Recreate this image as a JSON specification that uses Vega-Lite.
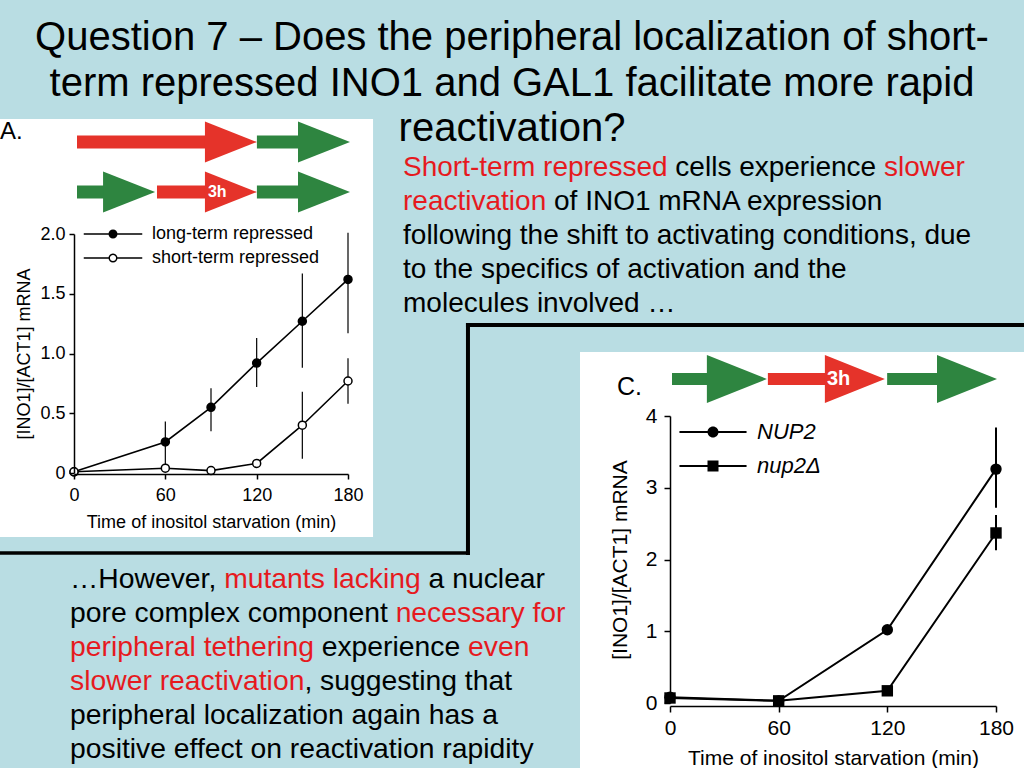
{
  "$schema": "https://vega.github.io/schema/vega-lite/v6.json",
  "width": 1024,
  "height": 768,
  "autosize": {"type": "none"},
  "padding": 0,
  "background": "#b9dde3",
  "config": {
    "view": {"stroke": null},
    "font": "Liberation Sans",
    "axis": {"grid": false, "domainColor": "black", "tickColor": "black", "labelColor": "black", "titleColor": "black", "titleFontWeight": "normal", "labelFont": "Liberation Sans", "titleFont": "Liberation Sans", "labelFlush": false, "labelOverlap": false, "domainWidth": 1.5, "tickWidth": 1.5},
    "legend": {"labelFont": "Liberation Sans", "labelColor": "black"}
  },
  "datasets": {
    "inoA": [
      {"series": "long-term repressed", "time": 0, "value": 0.01},
      {"series": "long-term repressed", "time": 60, "value": 0.26, "lo": 0.03, "hi": 0.43},
      {"series": "long-term repressed", "time": 90, "value": 0.55, "lo": 0.35, "hi": 0.71},
      {"series": "long-term repressed", "time": 120, "value": 0.92, "lo": 0.72, "hi": 1.13},
      {"series": "long-term repressed", "time": 150, "value": 1.27, "lo": 0.88, "hi": 1.67},
      {"series": "long-term repressed", "time": 180, "value": 1.62, "lo": 1.17, "hi": 2.01},
      {"series": "short-term repressed", "time": 0, "value": 0.01},
      {"series": "short-term repressed", "time": 60, "value": 0.04},
      {"series": "short-term repressed", "time": 90, "value": 0.02},
      {"series": "short-term repressed", "time": 120, "value": 0.08},
      {"series": "short-term repressed", "time": 150, "value": 0.40, "lo": 0.12, "hi": 0.68},
      {"series": "short-term repressed", "time": 180, "value": 0.77, "lo": 0.58, "hi": 0.96}
    ],
    "inoC": [
      {"strain": "NUP2", "time": 0, "value": 0.08},
      {"strain": "NUP2", "time": 60, "value": 0.03},
      {"strain": "NUP2", "time": 120, "value": 1.02},
      {"strain": "NUP2", "time": 180, "value": 3.26, "lo": 2.72, "hi": 3.84},
      {"strain": "nup2Δ", "time": 0, "value": 0.07},
      {"strain": "nup2Δ", "time": 60, "value": 0.03},
      {"strain": "nup2Δ", "time": 120, "value": 0.17},
      {"strain": "nup2Δ", "time": 180, "value": 2.37, "lo": 2.13, "hi": 2.62}
    ],
    "schemeA": [
      {"track": "long-term repressed", "phase": "repressed", "start": 0, "end": 65.9},
      {"track": "long-term repressed", "phase": "active", "start": 65.9, "end": 100},
      {"track": "short-term repressed", "phase": "active", "start": 0, "end": 28.6},
      {"track": "short-term repressed", "phase": "repressed", "start": 29.3, "end": 65.9, "label": "3h"},
      {"track": "short-term repressed", "phase": "active", "start": 65.9, "end": 100}
    ],
    "schemeC": [
      {"track": "short-term repressed", "phase": "active", "start": 0, "end": 29.2},
      {"track": "short-term repressed", "phase": "repressed", "start": 29.5, "end": 65.5, "label": "3h"},
      {"track": "short-term repressed", "phase": "active", "start": 66.2, "end": 100}
    ],
    "title": [
      {"line": 1, "text": "Question 7 – Does the peripheral localization of short-"},
      {"line": 2, "text": "term repressed INO1 and GAL1 facilitate more rapid"},
      {"line": 3, "text": "reactivation?"}
    ],
    "noteTop": [
      {"line": 1, "text": "Short-term repressed cells experience slower"},
      {"line": 2, "text": "reactivation of INO1 mRNA expression"},
      {"line": 3, "text": "following the shift to activating conditions, due"},
      {"line": 4, "text": "to the specifics of activation and the"},
      {"line": 5, "text": "molecules involved …"}
    ],
    "noteBottom": [
      {"line": 1, "text": "…However, mutants lacking a nuclear"},
      {"line": 2, "text": "pore complex component necessary for"},
      {"line": 3, "text": "peripheral tethering experience even"},
      {"line": 4, "text": "slower reactivation, suggesting that"},
      {"line": 5, "text": "peripheral localization again has a"},
      {"line": 6, "text": "positive effect on reactivation rapidity"}
    ]
  },
  "layer": [
    {
      "data": {"values": [{"item": "slide"}]},
      "layer": [
        {"mark": {"type": "rect", "color": "white"},
         "encoding": {
           "x": {"datum": 0, "type": "quantitative", "scale": {"domain": [0, 10], "range": [0, 1024]}, "axis": null},
           "x2": {"datum": 3.643},
           "y": {"datum": 1.162, "type": "quantitative", "scale": {"domain": [0, 7.5], "range": [0, 768]}, "axis": null},
           "y2": {"datum": 5.244}
         }},
        {"mark": {"type": "rect", "color": "white"},
         "encoding": {
           "x": {"datum": 5.664, "type": "quantitative", "scale": {"domain": [0, 10], "range": [0, 1024]}, "axis": null},
           "x2": {"datum": 10},
           "y": {"datum": 3.4375, "type": "quantitative", "scale": {"domain": [0, 7.5], "range": [0, 768]}, "axis": null},
           "y2": {"datum": 7.5}
         }},
        {"mark": {"type": "rule", "color": "black", "strokeWidth": 4, "strokeCap": "square"},
         "encoding": {
           "x": {"datum": 4.57, "type": "quantitative", "scale": {"domain": [0, 10], "range": [0, 1024]}, "axis": null},
           "x2": {"datum": 10},
           "y": {"datum": 3.174, "type": "quantitative", "scale": {"domain": [0, 7.5], "range": [0, 768]}, "axis": null}
         }},
        {"mark": {"type": "rule", "color": "black", "strokeWidth": 4, "strokeCap": "square"},
         "encoding": {
           "x": {"datum": 4.57, "type": "quantitative", "scale": {"domain": [0, 10], "range": [0, 1024]}, "axis": null},
           "y": {"datum": 3.174, "type": "quantitative", "scale": {"domain": [0, 7.5], "range": [0, 768]}, "axis": null},
           "y2": {"datum": 5.4}
         }},
        {"mark": {"type": "rule", "color": "black", "strokeWidth": 3.5, "strokeCap": "square"},
         "encoding": {
           "x": {"datum": 0, "type": "quantitative", "scale": {"domain": [0, 10], "range": [0, 1024]}, "axis": null},
           "x2": {"datum": 4.57},
           "y": {"datum": 5.4, "type": "quantitative", "scale": {"domain": [0, 7.5], "range": [0, 768]}, "axis": null}
         }},
        {"mark": {"type": "text", "fontSize": 24, "align": "left", "baseline": "alphabetic", "color": "black"},
         "encoding": {
           "x": {"datum": 0, "type": "quantitative", "scale": {"domain": [0, 10], "range": [0, 1024]}, "axis": null},
           "y": {"datum": 1.36, "type": "quantitative", "scale": {"domain": [0, 7.5], "range": [0, 768]}, "axis": null},
           "text": {"value": "A."}
         }},
        {"mark": {"type": "text", "fontSize": 25, "align": "left", "baseline": "alphabetic", "color": "black"},
         "encoding": {
           "x": {"datum": 6.025, "type": "quantitative", "scale": {"domain": [0, 10], "range": [0, 1024]}, "axis": null},
           "y": {"datum": 3.857, "type": "quantitative", "scale": {"domain": [0, 7.5], "range": [0, 768]}, "axis": null},
           "text": {"value": "C."}
         }}
      ]
    },
    {
      "data": {"name": "inoA"},
      "encoding": {
        "x": {"field": "time", "type": "quantitative", "scale": {"domain": [0, 180], "range": [74, 348]},
              "axis": {"orient": "bottom", "offset": -294, "zindex": 1, "values": [0, 60, 120, 180], "title": "Time of inositol starvation (min)", "titleFontSize": 18, "labelFontSize": 18, "tickSize": 5, "labelPadding": 7, "titlePadding": 9}},
        "y": {"field": "value", "type": "quantitative", "scale": {"domain": [0, 2], "range": [473, 234]},
              "axis": {"orient": "left", "offset": -74, "zindex": 1, "values": [0, 0.5, 1, 1.5, 2], "labelExpr": "datum.value === 0 ? '0' : format(datum.value, '.1f')", "title": "[INO1]/[ACT1] mRNA", "titleFontSize": 18, "labelFontSize": 18, "tickSize": 5, "labelPadding": 4, "titlePadding": 6}}
      },
      "layer": [
        {"transform": [{"filter": "datum.lo != null"}],
         "mark": {"type": "rule", "color": "black", "strokeWidth": 1.2},
         "encoding": {
           "y": {"field": "lo", "type": "quantitative", "scale": {"domain": [0, 2], "range": [473, 234]},
                 "axis": {"orient": "left", "offset": -74, "zindex": 1, "values": [0, 0.5, 1, 1.5, 2], "labelExpr": "datum.value === 0 ? '0' : format(datum.value, '.1f')", "title": "[INO1]/[ACT1] mRNA", "titleFontSize": 18, "labelFontSize": 18, "tickSize": 5, "labelPadding": 4, "titlePadding": 6}},
           "y2": {"field": "hi"}
         }},
        {"mark": {"type": "line", "color": "black", "strokeWidth": 1.6},
         "encoding": {"detail": {"field": "series", "type": "nominal"}}},
        {"mark": {"type": "point", "shape": "circle", "filled": true, "size": 64, "stroke": "black", "strokeWidth": 1.5, "opacity": 1},
         "encoding": {"fill": {"field": "series", "type": "nominal", "scale": {"domain": ["long-term repressed", "short-term repressed"], "range": ["black", "white"]}, "legend": null}}},
        {"mark": {"type": "point", "filled": false, "color": "black", "fill": "black", "stroke": "black", "strokeWidth": 1.5, "opacity": 0},
         "encoding": {"shape": {"field": "series", "type": "nominal",
            "scale": {"domain": ["long-term repressed", "short-term repressed"], "range": ["M-6.5,-0.17H-0.9V0.17H-6.5ZM0.9,-0.17H6.5V0.17H0.9ZM1,0A1,1,0,1,1,-1,0A1,1,0,1,1,1,0Z", "M-6.5,-0.17H-0.9V0.17H-6.5ZM0.9,-0.17H6.5V0.17H0.9ZM1,0A1,1,0,1,1,-1,0A1,1,0,1,1,1,0ZM0.68,0A0.68,0.68,0,1,0,-0.68,0A0.68,0.68,0,1,0,0.68,0Z"]},
            "legend": {"orient": "none", "legendX": 104, "legendY": 225, "title": null, "symbolSize": 81, "symbolStrokeWidth": 0, "symbolStrokeColor": "black", "symbolFillColor": "black", "symbolOpacity": 1, "labelFontSize": 18, "labelOffset": 30, "rowPadding": 6, "padding": 0, "labelLimit": 300}}}}
      ],
      "resolve": {"scale": {"shape": "independent", "fill": "independent"}, "legend": {"shape": "independent", "fill": "independent"}}
    },
    {
      "data": {"name": "inoC"},
      "encoding": {
        "x": {"field": "time", "type": "quantitative", "scale": {"domain": [0, 180], "range": [670, 996]},
              "axis": {"orient": "bottom", "offset": -62, "zindex": 1, "values": [0, 60, 120, 180], "title": "Time of inositol starvation (min)", "titleFontSize": 21, "labelFontSize": 21, "tickSize": 6, "labelPadding": 5, "titlePadding": 9}},
        "y": {"field": "value", "type": "quantitative", "scale": {"domain": [0, 4], "range": [703, 416]},
              "axis": {"orient": "left", "offset": -670, "zindex": 1, "values": [0, 1, 2, 3, 4], "title": "[INO1]/[ACT1] mRNA", "titleFontSize": 21, "labelFontSize": 21, "tickSize": 6, "labelPadding": 7, "titlePadding": 15}}
      },
      "layer": [
        {"transform": [{"filter": "datum.lo != null"}],
         "mark": {"type": "rule", "color": "black", "strokeWidth": 2},
         "encoding": {
           "y": {"field": "lo", "type": "quantitative", "scale": {"domain": [0, 4], "range": [703, 416]},
                 "axis": {"orient": "left", "offset": -670, "zindex": 1, "values": [0, 1, 2, 3, 4], "title": "[INO1]/[ACT1] mRNA", "titleFontSize": 21, "labelFontSize": 21, "tickSize": 6, "labelPadding": 7, "titlePadding": 15}},
           "y2": {"field": "hi"}
         }},
        {"mark": {"type": "line", "color": "black", "strokeWidth": 2},
         "encoding": {"detail": {"field": "strain", "type": "nominal"}}},
        {"mark": {"type": "point", "filled": true, "color": "black", "size": 130, "opacity": 1},
         "encoding": {"shape": {"field": "strain", "type": "nominal", "scale": {"domain": ["NUP2", "nup2Δ"], "range": ["circle", "square"]}, "legend": null}}},
        {"mark": {"type": "point", "filled": false, "color": "black", "fill": "black", "stroke": "black", "strokeWidth": 1.5, "opacity": 0},
         "encoding": {"shape": {"field": "strain", "type": "nominal",
            "scale": {"domain": ["NUP2", "nup2Δ"], "range": ["M-6.1,-0.18H-0.9V0.18H-6.1ZM0.9,-0.18H6.1V0.18H0.9ZM1,0A1,1,0,1,1,-1,0A1,1,0,1,1,1,0Z", "M-6.1,-0.18H-0.9V0.18H-6.1ZM0.9,-0.18H6.1V0.18H0.9ZM-1,-1H1V1H-1Z"]},
            "legend": {"orient": "none", "legendX": 702, "legendY": 421, "title": null, "symbolSize": 121, "symbolStrokeWidth": 0, "symbolStrokeColor": "black", "symbolFillColor": "black", "symbolOpacity": 1, "labelFontSize": 22, "labelFontStyle": "italic", "labelOffset": 33, "rowPadding": 12, "padding": 0, "labelLimit": 300}}}}
      ],
      "resolve": {"scale": {"shape": "independent"}, "legend": {"shape": "independent"}}
    },
    {
      "data": {"name": "schemeA"},
      "encoding": {
        "x": {"field": "start", "type": "quantitative", "scale": {"domain": [0, 100], "range": [77, 350]}, "axis": null},
        "y": {"field": "track", "type": "nominal", "scale": {"type": "point", "domain": ["long-term repressed", "short-term repressed"], "range": [142, 192], "padding": 0}, "axis": null},
        "color": {"field": "phase", "type": "nominal", "scale": {"domain": ["repressed", "active"], "range": ["#e5332a", "#2e8540"]}, "legend": null}
      },
      "layer": [
        {"mark": {"type": "rule", "strokeWidth": 13, "strokeCap": "butt", "x2Offset": -26},
         "encoding": {"x2": {"field": "end"}}},
        {"mark": {"type": "point", "shape": "M-1,-0.79L1,0L-1,0.79Z", "size": 2704, "filled": true, "opacity": 1, "xOffset": -26},
         "encoding": {"x": {"field": "end", "type": "quantitative", "scale": {"domain": [0, 100], "range": [77, 350]}, "axis": null}}},
        {"transform": [{"filter": "datum.label != null"}],
         "mark": {"type": "text", "fontWeight": "bold", "fontSize": 16, "align": "left", "baseline": "middle", "dx": -49},
         "encoding": {"x": {"field": "end", "type": "quantitative", "scale": {"domain": [0, 100], "range": [77, 350]}, "axis": null}, "text": {"field": "label"}, "color": {"value": "white"}}}
      ]
    },
    {
      "data": {"name": "schemeC"},
      "encoding": {
        "x": {"field": "start", "type": "quantitative", "scale": {"domain": [0, 100], "range": [672, 997]}, "axis": null},
        "y": {"field": "track", "type": "nominal", "scale": {"type": "point", "domain": ["short-term repressed"], "range": [379, 379], "padding": 0}, "axis": null},
        "color": {"field": "phase", "type": "nominal", "scale": {"domain": ["repressed", "active"], "range": ["#e5332a", "#2e8540"]}, "legend": null}
      },
      "layer": [
        {"mark": {"type": "rule", "strokeWidth": 12, "strokeCap": "butt", "x2Offset": -30},
         "encoding": {"x2": {"field": "end"}}},
        {"mark": {"type": "point", "shape": "M-1,-0.8L1,0L-1,0.8Z", "size": 3600, "filled": true, "opacity": 1, "xOffset": -30},
         "encoding": {"x": {"field": "end", "type": "quantitative", "scale": {"domain": [0, 100], "range": [672, 997]}, "axis": null}}},
        {"transform": [{"filter": "datum.label != null"}],
         "mark": {"type": "text", "fontWeight": "bold", "fontSize": 20, "align": "left", "baseline": "middle", "dx": -58},
         "encoding": {"x": {"field": "end", "type": "quantitative", "scale": {"domain": [0, 100], "range": [672, 997]}, "axis": null}, "text": {"field": "label"}, "color": {"value": "white"}}}
      ]
    },
    {
      "data": {"name": "title"},
      "mark": {"type": "text", "fontSize": 40, "align": "center", "baseline": "alphabetic", "color": "black"},
      "encoding": {
        "x": {"datum": 5, "type": "quantitative", "scale": {"domain": [0, 10], "range": [0, 1024]}, "axis": null},
        "y": {"field": "line", "type": "quantitative", "scale": {"domain": [1, 3], "range": [50, 141]}, "axis": null},
        "text": {"field": "text"}
      }
    },
    {
      "data": {"name": "noteTop"},
      "encoding": {
        "x": {"datum": 3.936, "type": "quantitative", "scale": {"domain": [0, 10], "range": [0, 1024]}, "axis": null},
        "y": {"field": "line", "type": "quantitative", "scale": {"domain": [1, 5], "range": [176, 312]}, "axis": null},
        "text": {"field": "text"}
      },
      "layer": [
        {"transform": [{"filter": "datum.line >= 3"}],
         "mark": {"type": "text", "fontSize": 28, "align": "left", "baseline": "alphabetic", "color": "#000000"}},
        {"transform": [{"filter": "datum.line == 1"}],
         "mark": {"type": "text", "fontSize": 28, "align": "left", "baseline": "alphabetic",
                  "color": {"gradient": "linear", "x1": 0, "x2": 1, "y1": 0, "y2": 0, "stops": [
                    {"offset": 0, "color": "#e6191e"}, {"offset": 0.4778, "color": "#e6191e"},
                    {"offset": 0.4778, "color": "#000000"}, {"offset": 0.8491, "color": "#000000"},
                    {"offset": 0.8491, "color": "#e6191e"}, {"offset": 1, "color": "#e6191e"}]}}},
        {"transform": [{"filter": "datum.line == 2"}],
         "mark": {"type": "text", "fontSize": 28, "align": "left", "baseline": "alphabetic",
                  "color": {"gradient": "linear", "x1": 0, "x2": 1, "y1": 0, "y2": 0, "stops": [
                    {"offset": 0, "color": "#e6191e"}, {"offset": 0.3058, "color": "#e6191e"},
                    {"offset": 0.3058, "color": "#000000"}, {"offset": 1, "color": "#000000"}]}}}
      ]
    },
    {
      "data": {"name": "noteBottom"},
      "encoding": {
        "x": {"datum": 0.684, "type": "quantitative", "scale": {"domain": [0, 10], "range": [0, 1024]}, "axis": null},
        "y": {"field": "line", "type": "quantitative", "scale": {"domain": [1, 6], "range": [588, 758]}, "axis": null},
        "text": {"field": "text"}
      },
      "layer": [
        {"transform": [{"filter": "datum.line >= 5"}],
         "mark": {"type": "text", "fontSize": 28.3, "align": "left", "baseline": "alphabetic", "color": "#000000"}},
        {"transform": [{"filter": "datum.line == 1"}],
         "mark": {"type": "text", "fontSize": 28.3, "align": "left", "baseline": "alphabetic",
                  "color": {"gradient": "linear", "x1": 0, "x2": 1, "y1": 0, "y2": 0, "stops": [
                    {"offset": 0, "color": "#000000"}, {"offset": 0.3184, "color": "#000000"},
                    {"offset": 0.3184, "color": "#e6191e"}, {"offset": 0.7475, "color": "#e6191e"},
                    {"offset": 0.7475, "color": "#000000"}, {"offset": 1, "color": "#000000"}]}}},
        {"transform": [{"filter": "datum.line == 2"}],
         "mark": {"type": "text", "fontSize": 28.3, "align": "left", "baseline": "alphabetic",
                  "color": {"gradient": "linear", "x1": 0, "x2": 1, "y1": 0, "y2": 0, "stops": [
                    {"offset": 0, "color": "#000000"}, {"offset": 0.6492, "color": "#000000"},
                    {"offset": 0.6492, "color": "#e6191e"}, {"offset": 1, "color": "#e6191e"}]}}},
        {"transform": [{"filter": "datum.line == 3"}],
         "mark": {"type": "text", "fontSize": 28.3, "align": "left", "baseline": "alphabetic",
                  "color": {"gradient": "linear", "x1": 0, "x2": 1, "y1": 0, "y2": 0, "stops": [
                    {"offset": 0, "color": "#e6191e"}, {"offset": 0.5394, "color": "#e6191e"},
                    {"offset": 0.5394, "color": "#000000"}, {"offset": 0.8578, "color": "#000000"},
                    {"offset": 0.8578, "color": "#e6191e"}, {"offset": 1, "color": "#e6191e"}]}}},
        {"transform": [{"filter": "datum.line == 4"}],
         "mark": {"type": "text", "fontSize": 28.3, "align": "left", "baseline": "alphabetic",
                  "color": {"gradient": "linear", "x1": 0, "x2": 1, "y1": 0, "y2": 0, "stops": [
                    {"offset": 0, "color": "#e6191e"}, {"offset": 0.5302, "color": "#e6191e"},
                    {"offset": 0.5302, "color": "#000000"}, {"offset": 1, "color": "#000000"}]}}}
      ]
    }
  ],
  "resolve": {
    "scale": {"x": "independent", "y": "independent", "color": "independent", "shape": "independent", "fill": "independent"},
    "axis": {"x": "independent", "y": "independent"},
    "legend": {"shape": "independent", "color": "independent", "fill": "independent"}
  }
}
